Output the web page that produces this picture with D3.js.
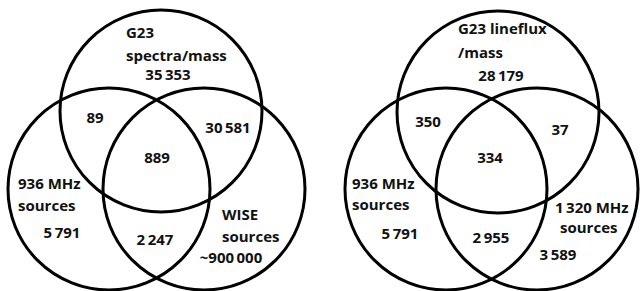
<!DOCTYPE html>
<html lang="en">
<head>
  <meta charset="UTF-8" />
  <title>Venn diagrams</title>
  <script src="https://d3js.org/d3.v7.min.js"></script>
  <style>
    html, body {
      margin: 0;
      padding: 0;
      background: white;
    }
    svg text {
      font-family: "Open Sans", sans-serif;
      font-weight: bold;
      font-size: 15px;
      fill: #111;
    }
    .ring {
      fill: none;
      stroke: #000;
      stroke-width: 3px;
    }
  </style>
</head>
<body>
<div id="chart"></div>
<script>
// region order: A (top), B (left), C (right), AB, AC, BC, ABC
const regionKeys = ["A", "B", "C", "AB", "AC", "BC", "ABC"];

const leftSetNames = [["G23", "spectra/mass"], ["936 MHz", "sources"], ["WISE", "sources"]];
const leftCounts = ["35\u2009353", "5\u2009791", "~900\u2009000", "89", "30\u2009581", "2\u2009247", "889"];

const rightSetNames = [["G23 lineflux", "/mass"], ["936 MHz", "sources"], ["1\u2009320 MHz", "sources"]];
const rightCounts = ["28\u2009179", "5\u2009791", "3\u2009589", "350", "37", "2\u2009955", "334"];

(function () {
  const W = 640, H = 291;

  const svg = d3.select("#chart").append("svg")
    .attr("width", W)
    .attr("height", H);

  // layout, in panel coordinates (each panel is 320 wide)
  const panels = [
    {
      offset: 0,
      names: leftSetNames,
      counts: leftCounts,
      circles: [[161, 111], [109, 189], [204, 189]],
      r: 101,
      nameLines: [[[126, 38], [126, 61]], [[18, 189], [18, 211]], [[222, 220], [222, 242]]],
      countPos: [[168, 80], [62, 238], [231, 263], [95, 123], [228, 133], [155, 245], [157, 163]]
    },
    {
      offset: 320,
      names: rightSetNames,
      counts: rightCounts,
      circles: [[178, 112], [126, 189], [217, 189]],
      r: 101,
      nameLines: [[[138, 34], [138, 58]], [[32, 189], [32, 210]], [[235, 213], [240, 233]]],
      countPos: [[181, 81], [80, 239], [238, 260], [108, 127], [240, 135], [171, 243], [170, 163]]
    }
  ];

  panels.forEach(p => {
    const x = d3.scaleLinear().domain([0, 320]).range([p.offset, p.offset + 320]);
    const y = d3.scaleLinear().domain([0, H]).range([0, H]);
    const g = svg.append("g");

    g.selectAll("circle")
      .data(p.circles)
      .join("circle")
      .attr("class", "ring")
      .attr("cx", d => x(d[0]))
      .attr("cy", d => y(d[1]))
      .attr("r", x(p.r) - x(0));

    p.names.forEach((lines, i) => {
      lines.forEach((t, j) => {
        g.append("text")
          .attr("x", x(p.nameLines[i][j][0]))
          .attr("y", y(p.nameLines[i][j][1]))
          .text(t);
      });
    });

    g.selectAll("text.count")
      .data(regionKeys.map((k, i) => ({ key: k, value: p.counts[i], pos: p.countPos[i] })))
      .join("text")
      .attr("class", "count")
      .attr("text-anchor", "middle")
      .attr("x", d => x(d.pos[0]))
      .attr("y", d => y(d.pos[1]))
      .text(d => d.value);
  });
})();
</script>
</body>
</html>
